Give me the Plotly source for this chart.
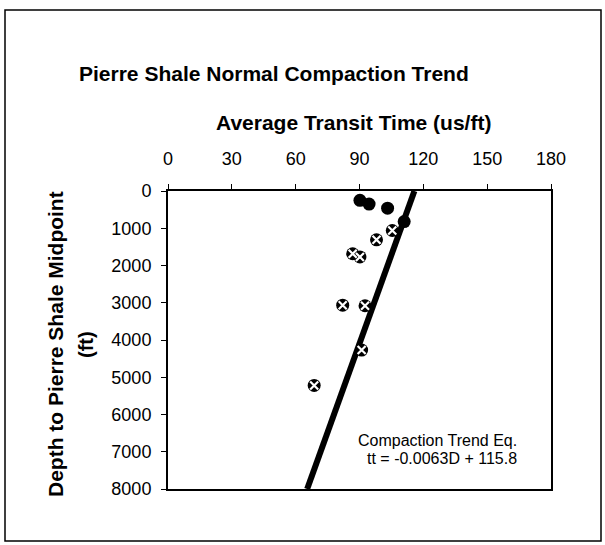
import plotly.graph_objects as go

# Pierre Shale transit-time samples (us/ft) against depth to shale midpoint (ft)
solid_tt = [90.2, 94.5, 103.2, 111.0]
solid_depth = [250, 350, 460, 820]

crossed_tt = [105.4, 98.0, 86.8, 90.2, 82.1, 92.6, 91.0, 68.7]
crossed_depth = [1060, 1310, 1685, 1770, 3065, 3080, 4270, 5220]

# Normal compaction trend: tt = slope * D + intercept
trend_slope = -0.0063
trend_intercept = 115.8
trend_depth = [0, 8000]
trend_tt = [trend_slope * d + trend_intercept for d in trend_depth]

x_ticks = [0, 30, 60, 90, 120, 150, 180]
y_ticks = [0, 1000, 2000, 3000, 4000, 5000, 6000, 7000, 8000]

FONT = "Liberation Sans, Arial, sans-serif"
W, H = 605, 545
ML, MR, MT, MB = 168, 54, 191, 56
PW, PH = W - ML - MR, H - MT - MB


def px(x):
    return (x - ML) / PW


def py(y):
    return (H - MB - y) / PH


fig = go.Figure()

fig.add_trace(go.Scatter(
    x=trend_tt, y=trend_depth, mode="lines",
    line=dict(color="black", width=6), hoverinfo="skip", showlegend=False,
))

fig.add_trace(go.Scatter(
    x=solid_tt, y=solid_depth, mode="markers",
    marker=dict(symbol="circle", size=13, color="black"),
    showlegend=False,
))

fig.add_trace(go.Scatter(
    x=crossed_tt, y=crossed_depth, mode="markers",
    marker=dict(symbol="circle", size=13, color="black"),
    showlegend=False,
))
fig.add_trace(go.Scatter(
    x=crossed_tt, y=crossed_depth, mode="markers",
    marker=dict(symbol="x-thin", size=8, color="white",
                line=dict(color="white", width=2.2)),
    hoverinfo="skip", showlegend=False,
))

fig.update_xaxes(
    range=[0, 180], side="top", tickvals=x_ticks,
    showline=True, linecolor="black", linewidth=2, mirror=True,
    ticks="outside", ticklen=5, tickcolor="black", tickwidth=1,
    ticklabelstandoff=12,
    showgrid=False, zeroline=False,
    tickfont=dict(family=FONT, size=18, color="black"),
)
fig.update_yaxes(
    range=[8000, 0], tickvals=y_ticks,
    showline=True, linecolor="black", linewidth=2, mirror=True,
    ticks="outside", ticklen=5, tickcolor="black", tickwidth=1,
    ticklabelstandoff=6,
    showgrid=False, zeroline=False,
    tickfont=dict(family=FONT, size=18, color="black"),
)

annotations = [
    dict(text="<b>Pierre Shale Normal Compaction Trend</b>",
         x=px(274), y=py(73), font=dict(size=21)),
    dict(text="<b>Average Transit Time (us/ft)</b>",
         x=px(353), y=py(122), font=dict(size=21)),
    dict(text="<b>Depth to Pierre Shale Midpoint</b>",
         x=px(55), y=py(344), textangle=-90, font=dict(size=21)),
    dict(text="<b>(ft)</b>",
         x=px(86), y=py(345), textangle=-90, font=dict(size=20)),
    dict(text="Compaction Trend Eq.",
         x=px(437), y=py(440), font=dict(size=16)),
    dict(text="tt = -0.0063D + 115.8",
         x=px(442), y=py(458), font=dict(size=16)),
]
for a in annotations:
    a.update(xref="paper", yref="paper", showarrow=False,
             xanchor="center", yanchor="middle")
    a["font"].update(family=FONT, color="black")

fig.update_layout(
    width=W, height=H,
    margin=dict(l=ML, r=MR, t=MT, b=MB),
    paper_bgcolor="white", plot_bgcolor="white",
    annotations=annotations,
    shapes=[dict(type="rect", xref="paper", yref="paper",
                 x0=px(5), x1=px(601), y0=py(541), y1=py(10),
                 line=dict(color="black", width=1.5), layer="below")],
)

fig.write_html("out.html")
